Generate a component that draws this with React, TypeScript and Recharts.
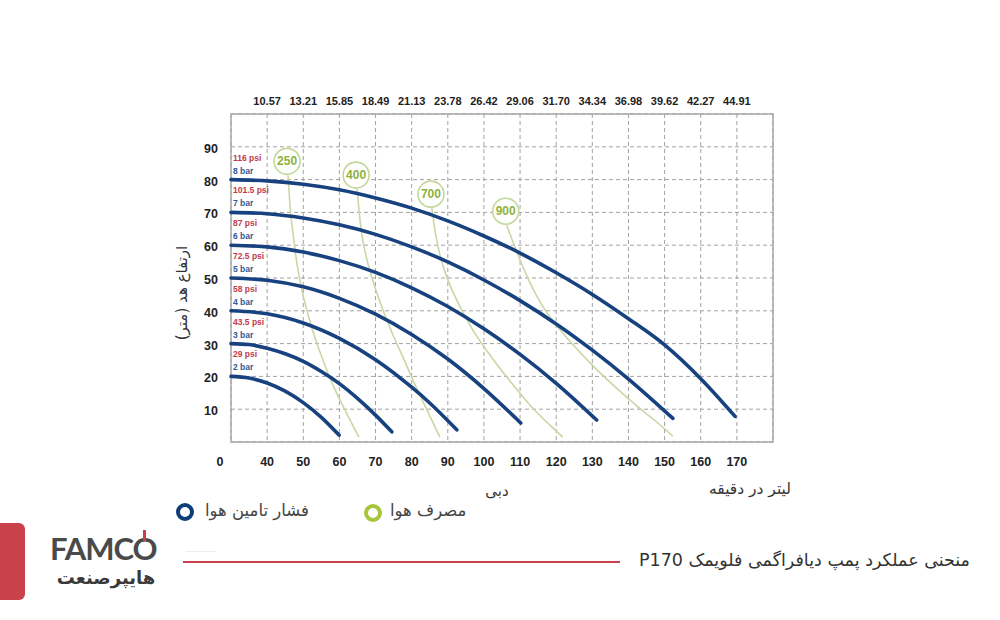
import React from 'react';
import { ComposedChart, Line, XAxis, YAxis, CartesianGrid, ReferenceArea, Scatter } from 'recharts';

// Flow (L/min) ticks and US gpm labels on top
const flowTicks = [30, 40, 50, 60, 70, 80, 90, 100, 110, 120, 130, 140, 150, 160, 170];
const topTicks = [40, 50, 60, 70, 80, 90, 100, 110, 120, 130, 140, 150, 160, 170];
const gpmLabels = ['10.57', '13.21', '15.85', '18.49', '21.13', '23.78', '26.42', '29.06', '31.70', '34.34', '36.98', '39.62', '42.27', '44.91'];
const headTicks = [10, 20, 30, 40, 50, 60, 70, 80, 90];
const feetLabels = ['32.8', '65.6', '98.4', '131.2', '164', '196.8', '229.6', '262.4', '295.2'];

// Air supply pressure curves (q = L/min, h = head m)
const bar2 = [{ q: 30, h: 20 }, { q: 35, h: 19.5 }, { q: 40, h: 18 }, { q: 45, h: 15.5 }, { q: 50, h: 12 }, { q: 55, h: 7.5 }, { q: 59.9, h: 2.1 }];
const bar3 = [{ q: 30, h: 30 }, { q: 35, h: 29.7 }, { q: 40, h: 28.6 }, { q: 45, h: 26.9 }, { q: 50, h: 24.6 }, { q: 55, h: 21.5 }, { q: 60, h: 17.8 }, { q: 65, h: 13.3 }, { q: 70, h: 8.2 }, { q: 74.5, h: 3.1 }];
const bar4 = [{ q: 30, h: 40 }, { q: 40, h: 39.1 }, { q: 50, h: 36.3 }, { q: 60, h: 31.6 }, { q: 70, h: 25.1 }, { q: 80, h: 16.7 }, { q: 85, h: 11.9 }, { q: 92.5, h: 3.7 }];
const bar5 = [{ q: 30, h: 50 }, { q: 40, h: 49.3 }, { q: 50, h: 47.3 }, { q: 60, h: 43.8 }, { q: 70, h: 39 }, { q: 80, h: 32.8 }, { q: 90, h: 25.3 }, { q: 100, h: 16.3 }, { q: 110.2, h: 5.8 }];
const bar6 = [{ q: 30, h: 60 }, { q: 40, h: 59.5 }, { q: 50, h: 57.9 }, { q: 60, h: 55.3 }, { q: 70, h: 51.7 }, { q: 80, h: 47 }, { q: 90, h: 41.3 }, { q: 100, h: 34.5 }, { q: 110, h: 26.7 }, { q: 120, h: 17.9 }, { q: 131.2, h: 6.7 }];
const bar7 = [{ q: 30, h: 70 }, { q: 40, h: 69.6 }, { q: 50, h: 68.3 }, { q: 60, h: 66.2 }, { q: 70, h: 63.3 }, { q: 80, h: 59.5 }, { q: 90, h: 54.9 }, { q: 100, h: 49.4 }, { q: 110, h: 43.1 }, { q: 120, h: 36 }, { q: 130, h: 28 }, { q: 140, h: 19.2 }, { q: 152.3, h: 7.2 }];
const bar8 = [{ q: 30, h: 80 }, { q: 40, h: 79.6 }, { q: 50, h: 78.6 }, { q: 60, h: 76.9 }, { q: 70, h: 74.4 }, { q: 80, h: 71.3 }, { q: 90, h: 67.4 }, { q: 100, h: 62.8 }, { q: 110, h: 57.6 }, { q: 120, h: 51.6 }, { q: 130, h: 45 }, { q: 140, h: 37.6 }, { q: 150, h: 29.6 }, { q: 160, h: 19.3 }, { q: 169.5, h: 7.8 }];
const pressureCurves = [bar2, bar3, bar4, bar5, bar6, bar7, bar8];
const barLabels = ['2 bar', '3 bar', '4 bar', '5 bar', '6 bar', '7 bar', '8 bar'];
const psiLabels = ['29 psi', '43.5 psi', '58 psi', '72.5 psi', '87 psi', '101.5 psi', '116 psi'];

// Air consumption curves
const air250 = [{ q: 45.8, h: 81.3 }, { q: 46.3, h: 72.5 }, { q: 47.2, h: 63.3 }, { q: 48.3, h: 54.1 }, { q: 49.9, h: 45 }, { q: 52.1, h: 35.8 }, { q: 54.9, h: 26.6 }, { q: 58.2, h: 17.4 }, { q: 61.8, h: 9.2 }, { q: 65.4, h: 1.5 }];
const air400 = [{ q: 64.9, h: 77.1 }, { q: 65.4, h: 70.9 }, { q: 66.2, h: 63.3 }, { q: 67.6, h: 55.7 }, { q: 69.6, h: 48 }, { q: 72, h: 40.4 }, { q: 74.8, h: 32.7 }, { q: 77.9, h: 25.1 }, { q: 81.2, h: 16.8 }, { q: 84.5, h: 9.2 }, { q: 87.8, h: 1.5 }];
const air700 = [{ q: 85.6, h: 71.3 }, { q: 86.4, h: 64.8 }, { q: 87.8, h: 57.2 }, { q: 90, h: 49.5 }, { q: 93.1, h: 41.9 }, { q: 96.9, h: 34.2 }, { q: 101.6, h: 26.6 }, { q: 106.9, h: 19 }, { q: 112.7, h: 11.3 }, { q: 118.2, h: 5.2 }, { q: 121.8, h: 1.5 }];
const air900 = [{ q: 106.3, h: 66.1 }, { q: 108.3, h: 60.2 }, { q: 110.5, h: 54.1 }, { q: 113, h: 48 }, { q: 116, h: 41.9 }, { q: 119.9, h: 35.8 }, { q: 124.6, h: 29.7 }, { q: 129.9, h: 23.5 }, { q: 135.7, h: 17.4 }, { q: 142, h: 11.3 }, { q: 147.8, h: 6.1 }, { q: 152.3, h: 1.8 }];
const airCurves = [air250, air400, air700, air900];
const airLabels = ['250', '400', '700', '900'];

const NUM_FONT = "'Liberation Sans', Arial, sans-serif";
const FA_FONT = "'DejaVu Sans', sans-serif";
const BLUE = '#17427f';
const GREEN_LINE = '#c9d7a6';

const pressureLabelData = pressureCurves.map((c, i) => ({ q: c[0].q, h: c[0].h, bar: barLabels[i], psi: psiLabels[i] }));
const airLabelData = airCurves.map((c, i) => ({ q: c[0].q, h: c[0].h, label: airLabels[i] }));

const BottomTick = (props: any) => {
  const { x, y, payload } = props;
  const origin = payload.value === 30;
  return (
    <text x={x + (origin ? -11 : 0)} y={y + 16} textAnchor="middle" fontFamily={NUM_FONT} fontWeight="bold" fontSize={12.5} fill="#222">
      {origin ? '0' : payload.value}
    </text>
  );
};

const TopTick = (props: any) => {
  const { x, y, payload } = props;
  const idx = topTicks.indexOf(Math.round(Number(payload.value)));
  return (
    <text x={x} y={y - 1} textAnchor="middle" fontFamily={NUM_FONT} fontWeight="bold" fontSize={11} fill="#222">
      {idx >= 0 ? gpmLabels[idx] : ''}
    </text>
  );
};

const LeftTick = (props: any) => {
  const { x, y, payload } = props;
  return (
    <text x={x - 5} y={y + 6} textAnchor="end" fontFamily={NUM_FONT} fontWeight="bold" fontSize={12.5} fill="#222">
      {payload.value}
    </text>
  );
};

const RightTick = (props: any) => {
  const { x, y, payload } = props;
  const idx = headTicks.indexOf(payload.value);
  return (
    <text x={x + 4} y={y + 3} textAnchor="start" fontFamily={NUM_FONT} fontWeight="bold" fontSize={12.5} fill="#222">
      {feetLabels[idx]}
    </text>
  );
};

const PressureLabel = (props: any) => {
  const { cx, cy, payload } = props;
  return (
    <g>
      <text x={cx + 2} y={cy - 22} dominantBaseline="central" fontFamily={NUM_FONT} fontWeight="bold" fontSize={8.5} fill="#c23a4c">
        {payload.psi}
      </text>
      <text x={cx + 2} y={cy - 9} dominantBaseline="central" fontFamily={NUM_FONT} fontWeight="bold" fontSize={8.5} fill="#2f5a96">
        {payload.bar}
      </text>
    </g>
  );
};

const AirLabel = (props: any) => {
  const { cx, cy, payload } = props;
  return (
    <g>
      <circle cx={cx - 1} cy={cy - 14} r={13} fill="#fff" stroke="#c3d89a" strokeWidth={1.6} />
      <text x={cx - 1} y={cy - 14} textAnchor="middle" dominantBaseline="central" fontFamily={NUM_FONT} fontWeight="bold" fontSize={12} fill="#8db33d">
        {payload.label}
      </text>
    </g>
  );
};

export default function App() {
  return (
    <div style={{ position: 'absolute', left: 0, top: 0, width: 1000, height: 620, background: '#fff', overflow: 'hidden' }}>
      <ComposedChart width={1000} height={620} margin={{ top: 84, right: 167, bottom: 148, left: 171 }}>
        <CartesianGrid stroke="#a2a2a2" strokeDasharray="4 3" strokeWidth={1} />
        <XAxis xAxisId={0} dataKey="q" type="number" domain={[30, 180]} ticks={flowTicks} height={30} axisLine={false} tickLine={false} tick={<BottomTick />} interval={0} />
        <XAxis xAxisId="top" dataKey="q" orientation="top" type="number" domain={[30, 180]} ticks={topTicks} height={30} axisLine={false} tickLine={false} tick={<TopTick />} interval={0} />
        <YAxis yAxisId={0} dataKey="h" type="number" domain={[0, 100]} ticks={headTicks} width={60} axisLine={false} tickLine={false} tick={<LeftTick />} interval={0} />
        <YAxis yAxisId="right" orientation="right" type="number" domain={[0, 100]} ticks={headTicks} width={60} axisLine={false} tickLine={false} tick={<RightTick />} interval={0} />
        <ReferenceArea x1={30} x2={180} y1={0} y2={100} stroke="#a8a8a8" strokeWidth={1.5} fill="none" fillOpacity={0} />
        <Line xAxisId="top" data={bar8} dataKey="h" type="monotone" stroke="none" dot={false} activeDot={false} isAnimationActive={false} legendType="none" />
        {airCurves.map((c, i) => (
          <Line key={'a' + i} data={c} dataKey="h" type="monotone" stroke={GREEN_LINE} strokeWidth={1.6} dot={false} activeDot={false} isAnimationActive={false} />
        ))}
        {pressureCurves.map((c, i) => (
          <Line key={'p' + i} data={c} dataKey="h" type="monotone" stroke={BLUE} strokeWidth={3.6} strokeLinecap="round" dot={false} activeDot={false} isAnimationActive={false} />
        ))}
        <Scatter data={pressureLabelData} dataKey="h" shape={<PressureLabel />} isAnimationActive={false} />
        <Scatter data={airLabelData} dataKey="h" shape={<AirLabel />} isAnimationActive={false} />
      </ComposedChart>

      {/* Axis titles */}
      <div style={{ position: 'absolute', left: 182, top: 293, transform: 'translate(-50%, -50%) rotate(-90deg)', fontFamily: FA_FONT, fontSize: 15, color: '#333', whiteSpace: 'nowrap', direction: 'rtl' }}>
        ارتفاع هد (متر)
      </div>
      <div style={{ position: 'absolute', left: 497, top: 491, transform: 'translate(-50%, -50%)', fontFamily: FA_FONT, fontSize: 15, color: '#333', whiteSpace: 'nowrap', direction: 'rtl' }}>
        دبی
      </div>
      <div style={{ position: 'absolute', left: 750, top: 489, transform: 'translate(-50%, -50%)', fontFamily: FA_FONT, fontSize: 15.5, color: '#333', whiteSpace: 'nowrap', direction: 'rtl' }}>
        لیتر در دقیقه
      </div>

      {/* Legend */}
      <div style={{ position: 'absolute', left: 176, top: 503, width: 18, height: 18, boxSizing: 'border-box', borderRadius: '50%', border: '4px solid #0c3f7a' }} />
      <div style={{ position: 'absolute', left: 205, top: 510, transform: 'translateY(-50%)', fontFamily: FA_FONT, fontSize: 16.5, color: '#444', whiteSpace: 'nowrap', direction: 'rtl' }}>
        فشار تامین هوا
      </div>
      <div style={{ position: 'absolute', left: 364, top: 504, width: 18, height: 18, boxSizing: 'border-box', borderRadius: '50%', border: '4px solid #a6c63c' }} />
      <div style={{ position: 'absolute', left: 390, top: 510, transform: 'translateY(-50%)', fontFamily: FA_FONT, fontSize: 16.5, color: '#444', whiteSpace: 'nowrap', direction: 'rtl' }}>
        مصرف هوا
      </div>

      {/* Footer */}
      <div style={{ position: 'absolute', left: 0, top: 523, width: 25, height: 77, background: '#c8414b', borderRadius: '0 6px 6px 0' }} />
      <div style={{ position: 'absolute', left: 50, top: 533, fontFamily: "'Lato', sans-serif", fontWeight: 700, fontSize: 31, color: '#4a4a4a', letterSpacing: -1, lineHeight: '30px', whiteSpace: 'nowrap' }}>
        FAMC<span style={{ position: 'relative' }}>O<span style={{ position: 'absolute', left: 10, top: 1, width: 3, height: 11, background: '#c8414b' }} /></span>
      </div>
      <div style={{ position: 'absolute', left: 55, top: 567, width: 102, textAlign: 'center', fontFamily: FA_FONT, fontWeight: 700, fontSize: 18, lineHeight: '22px', color: '#3a3a3a', whiteSpace: 'nowrap', direction: 'rtl' }}>
        هایپرصنعت
      </div>
      <div style={{ position: 'absolute', left: 186, top: 551, width: 30, height: 1, background: '#eeeeee' }} />
      <div style={{ position: 'absolute', left: 183, top: 561, width: 437, height: 2, background: '#c8414b' }} />
      <div style={{ position: 'absolute', right: 30, top: 560, transform: 'translateY(-50%)', fontFamily: FA_FONT, fontSize: 17.5, color: '#333', whiteSpace: 'nowrap', direction: 'rtl' }}>
        منحنی عملکرد پمپ دیافراگمی فلویمک P170
      </div>
    </div>
  );
}
